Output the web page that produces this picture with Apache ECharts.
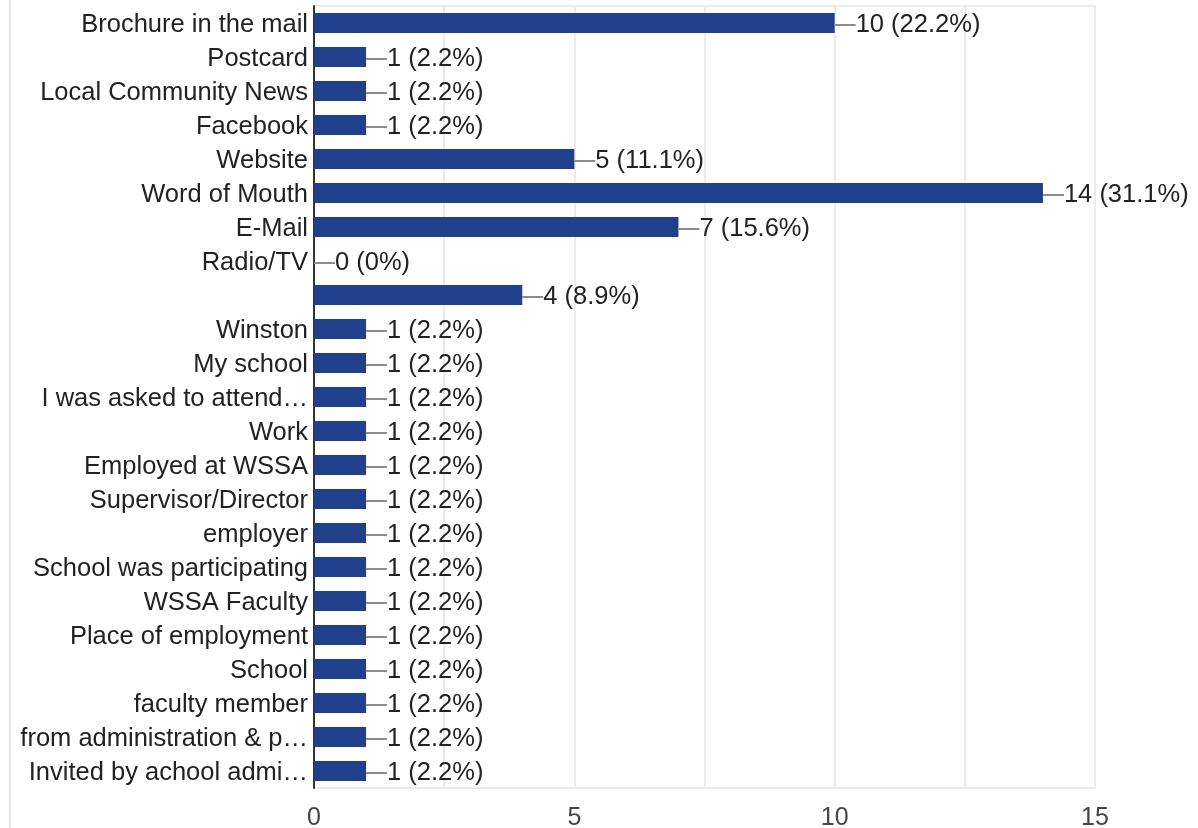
<!DOCTYPE html>
<html>
<head>
<meta charset="utf-8">
<script src="https://cdn.jsdelivr.net/npm/echarts@6/dist/echarts.min.js"></script>
<style>
  html, body { margin: 0; padding: 0; background: #fff; }
  #chart { width: 1198px; height: 828px; }
</style>
</head>
<body>
<div id="chart"></div>
<script>
// answer options, top to bottom
const categories = [
  "Brochure in the mail", "Postcard", "Local Community News", "Facebook",
  "Website", "Word of Mouth", "E-Mail", "Radio/TV", "",
  "Winston", "My school", "I was asked to attend…", "Work",
  "Employed at WSSA", "Supervisor/Director", "employer",
  "School was participating", "WSSA Faculty", "Place of employment",
  "School", "faculty member", "from administration & p…",
  "Invited by achool admi…"
];
const counts = [10, 1, 1, 1, 5, 14, 7, 0, 4, 1, 1, 1, 1, 1, 1, 1, 1, 1, 1, 1, 1, 1, 1];
const respondents = 45;
const xTicks = [0, 5, 10, 15];

let eChart = echarts.init(document.getElementById("chart"));

let option = {
  animation: false,
  textStyle: { fontFamily: "Liberation Sans, Arial, sans-serif" },
  grid: {
    show: true,
    left: 314,
    right: 103,
    top: 6,
    bottom: 40,
    outerBoundsMode: "none",
    containLabel: false,
    borderColor: "#ebebeb",
    borderWidth: 2,
  },
  graphic: [{
    type: "line",
    shape: { x1: 10, y1: 0, x2: 10, y2: 828 },
    style: { stroke: "#e6e6e6", lineWidth: 2 },
  }],
  xAxis: {
    type: "value",
    min: 0,
    max: 15,
    interval: 2.5,
    axisLine: { show: false },
    axisTick: { show: false },
    splitLine: { lineStyle: { color: "#ebebeb", width: 2 } },
    axisLabel: {
      fontSize: 25,
      color: "#444",
      margin: 18,
      formatter: function (v) {
        return xTicks.indexOf(v) >= 0 ? String(v) : "";
      },
    },
  },
  yAxis: {
    type: "category",
    inverse: true,
    data: categories,
    axisLine: { show: true, lineStyle: { color: "#333", width: 2 } },
    axisTick: { show: false },
    axisLabel: {
      fontSize: 25.5,
      color: "#222",
      margin: 6,
      formatter: function (v) {
        return v ? "{t|" + v + "}" : "";
      },
      rich: {
        t: { fontSize: 25.5, color: "#222", padding: [4, 0, 0, 0] },
      },
    },
  },
  series: [{
    type: "bar",
    data: counts,
    barWidth: 20,
    itemStyle: { color: "#21408c" },
    label: {
      show: true,
      position: "right",
      distance: 0,
      offset: [0, 2],
      fontSize: 25.5,
      color: "#222",
      formatter: function (p) {
        let pct = Math.round(p.value / respondents * 1000) / 10;
        return "{ln|}" + p.value + " (" + pct + "%)";
      },
      rich: {
        ln: {
          width: 21,
          height: 2,
          backgroundColor: "#8c8c8c",
        },
      },
    },
  }],
};

eChart.setOption(option, true);
</script>
</body>
</html>
